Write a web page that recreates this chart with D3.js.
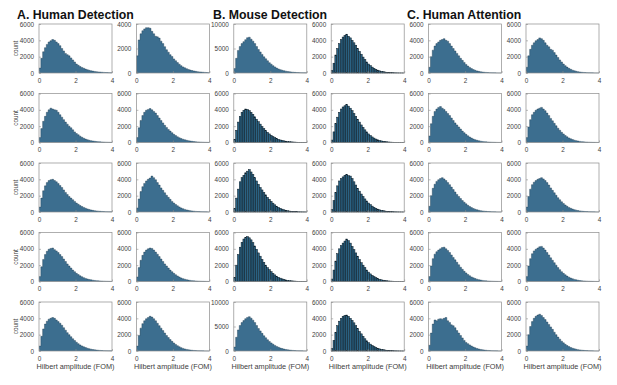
<!DOCTYPE html>
<html><head><meta charset="utf-8">
<script src="https://cdn.jsdelivr.net/npm/d3@7"></script>
<style>body{margin:0;background:#fff}svg{display:block}text{font-family:"Liberation Sans",Arial,sans-serif}</style>
</head><body>
<script>
// bin edges: 0..4 in steps of 0.1 (40 bins)
const binStarts = d3.range(40).map(i => i / 10);
const xTicks = [0, 2, 4];
const panelTitles = ["A. Human Detection", "B. Mouse Detection", "C. Human Attention"];
const xLabel = "Hilbert amplitude (FOM)";
const yLabel = "count";
const yMaxRows = [
  [6000, 4000, 10000, 6000, 6000, 6000],
  [6000, 6000, 6000, 6000, 6000, 6000],
  [6000, 6000, 6000, 6000, 6000, 6000],
  [6000, 6000, 6000, 6000, 6000, 6000],
  [6000, 6000, 10000, 6000, 6000, 6000]
];
const yTickSets = {4000: [0, 2000, 4000], 6000: [0, 2000, 4000, 6000], 10000: [0, 5000, 10000]};
const edgedRows = [
  [false, false, false, true, false, false],
  [false, false, true, true, false, false],
  [false, false, true, true, false, false],
  [false, false, true, true, false, false],
  [false, false, false, true, false, false]
];
// counts per bin, row by row
const row1 = [
  [600,1800,2600,3100,3500,3800,3950,4100,4000,3800,3600,3350,3000,2700,2400,2250,2100,1850,1600,1350,1100,950,800,680,580,480,400,330,270,230,190,160,130,110,90,75,60,50,40,30],
  [1400,2700,3200,3450,3600,3700,3700,3650,3400,3200,3000,2950,2850,2600,2400,2150,1900,1700,1500,1350,1150,1000,850,720,600,500,420,350,290,240,200,165,135,110,90,75,60,50,40,30],
  [900,3000,4600,5400,6000,6400,6800,7200,7300,6900,6500,6000,5400,4800,4300,3800,3300,2900,2500,2100,1800,1500,1250,1000,820,680,560,460,380,310,250,200,160,130,100,80,65,50,40,30],
  [300,1200,2200,3000,3600,4100,4400,4600,4750,4500,4300,4000,3700,3400,3000,2650,2300,1950,1650,1350,1100,900,720,570,450,350,270,210,160,120,90,70,50,40,30,20,15,10,8,5],
  [700,2000,2800,3300,3600,3800,4000,4100,4200,4000,3900,3600,3300,3000,2700,2400,2100,1800,1550,1300,1050,850,680,540,420,330,260,200,150,120,90,70,55,40,30,22,16,12,8,5],
  [700,2100,2900,3400,3700,3950,4100,4300,4200,4000,3700,3400,3200,2900,2800,2500,2200,1900,1600,1350,1100,900,720,570,450,350,270,210,160,120,90,70,55,40,30,22,16,12,8,5]
];
const row2 = [
  [600,1700,2600,3200,3700,4000,4200,4100,4000,3950,3700,3400,3100,2800,2500,2250,2000,1800,1550,1300,1100,950,780,640,520,420,340,270,220,180,150,120,100,80,65,50,40,32,25,20],
  [600,1800,2700,3300,3700,3950,4050,4150,4000,3800,3600,3300,3000,2700,2400,2100,1850,1600,1400,1200,1000,850,700,580,480,400,330,270,220,180,145,115,90,72,58,45,35,28,22,17],
  [400,1500,2500,3200,3700,3950,4100,4050,3900,3700,3450,3150,2850,2550,2250,1950,1700,1450,1250,1050,870,720,590,480,390,310,250,200,160,125,100,80,62,48,37,28,21,16,12,9],
  [300,1300,2300,3100,3700,4100,4350,4500,4650,4450,4200,3900,3550,3200,2850,2500,2150,1850,1550,1300,1050,850,680,540,420,330,255,195,150,115,85,65,50,37,28,20,15,11,8,5],
  [800,2300,3200,3800,4100,4300,4400,4200,4050,3800,3550,3300,3000,2700,2400,2150,1900,1650,1400,1200,1000,820,670,540,430,340,270,210,165,130,100,78,60,46,35,27,20,15,11,8],
  [600,1900,2800,3400,3700,3950,4100,4200,4300,4100,3900,3600,3300,2950,2650,2350,2050,1750,1500,1250,1050,860,700,560,450,360,285,225,175,135,105,80,62,48,37,28,21,16,12,9]
];
const row3 = [
  [600,1700,2600,3200,3600,3850,3950,4000,3850,3700,3500,3250,3000,2700,2400,2150,1900,1700,1500,1300,1100,950,800,670,560,460,380,310,250,200,160,130,105,85,68,55,44,35,28,22],
  [500,1600,2500,3100,3500,3800,4000,4150,4400,4200,3950,3600,3300,2950,2650,2350,2050,1800,1550,1300,1100,920,760,620,500,400,320,255,200,160,125,98,76,59,46,36,28,22,17,13],
  [400,1700,2800,3700,4200,4500,4800,5000,5200,4900,4600,4200,3800,3400,3000,2700,2400,2100,1800,1550,1300,1080,880,710,570,450,350,270,210,160,120,92,70,53,40,30,22,16,12,9],
  [300,1400,2400,3200,3800,4100,4300,4500,4600,4450,4400,4100,3700,3300,2900,2550,2200,1900,1600,1350,1100,900,720,570,450,350,270,210,160,120,90,68,52,40,30,22,16,12,9,6],
  [700,2000,2900,3400,3750,3950,4100,4200,4050,3850,3600,3350,3050,2750,2450,2150,1900,1650,1400,1200,1000,820,670,540,430,340,270,210,165,130,100,78,60,46,35,27,20,15,11,8],
  [600,1900,2800,3350,3650,3850,4000,4100,4200,4050,3850,3600,3300,2950,2650,2350,2050,1750,1500,1250,1050,860,700,560,450,360,285,225,175,135,105,80,62,48,37,28,21,16,12,9]
];
const row4 = [
  [600,1800,2700,3300,3700,3950,4050,4100,3900,3750,3550,3300,3050,2750,2450,2150,1900,1650,1400,1200,1000,850,700,580,470,380,310,250,200,160,130,100,80,64,50,40,32,25,20,15],
  [550,1700,2600,3200,3600,3850,4000,4100,4050,3850,3600,3350,3050,2750,2450,2150,1900,1650,1400,1200,1000,830,680,550,440,350,280,220,170,135,105,82,64,50,39,30,23,18,14,10],
  [500,2000,3300,4200,4800,5200,5400,5500,5350,5100,4750,4350,3950,3500,3100,2700,2350,2000,1700,1450,1200,1000,810,650,520,410,320,250,190,145,110,85,64,48,36,27,20,15,11,8],
  [300,1400,2500,3400,4000,4400,4700,4950,5200,5000,4700,4300,3900,3500,3100,2700,2300,2000,1700,1400,1150,930,750,590,460,360,280,210,160,120,90,68,52,40,30,22,16,12,9,6],
  [600,1900,2800,3350,3650,3850,4000,4150,4200,4000,3800,3550,3250,2950,2650,2350,2050,1750,1500,1250,1050,860,700,560,450,360,285,225,175,135,105,80,62,48,37,28,21,16,12,9],
  [600,1900,2800,3400,3750,3950,4100,4250,4300,4100,3850,3550,3250,2900,2600,2300,2000,1700,1450,1200,1000,820,660,530,420,330,260,200,155,120,92,70,54,41,31,24,18,14,10,7]
];
const row5 = [
  [600,1800,2700,3300,3650,3900,4000,4100,4000,3800,3600,3400,3150,2850,2550,2250,2000,1750,1500,1280,1080,900,750,620,510,420,340,275,220,175,140,110,88,70,56,44,35,28,22,17],
  [600,1900,2800,3350,3700,3950,4100,4250,4150,3950,3700,3400,3100,2800,2500,2200,1900,1650,1400,1180,980,800,650,520,410,320,250,195,150,115,88,68,52,40,30,23,17,13,10,7],
  [800,2800,4300,5200,5800,6200,6600,6850,7000,6700,6300,5800,5200,4600,4100,3600,3100,2700,2300,1950,1650,1380,1140,930,760,610,490,390,310,245,190,150,115,88,68,52,40,30,23,17],
  [300,1300,2300,3100,3650,4000,4250,4350,4400,4250,4000,3750,3450,3100,2750,2400,2100,1800,1500,1250,1030,840,680,540,430,340,265,205,158,120,92,70,53,40,30,23,17,12,9,6],
  [700,2200,3300,3800,3700,3900,3950,3900,4000,4100,3700,3500,3200,3100,2850,2500,2200,1900,1600,1300,1050,900,750,610,490,390,310,245,190,150,115,88,68,52,40,30,23,17,13,10],
  [600,2000,3000,3600,4000,4250,4400,4500,4350,4100,3850,3550,3250,2950,2650,2300,2000,1700,1450,1200,1000,820,670,540,430,340,270,210,165,130,100,78,60,46,35,27,20,15,11,8]
];
const rows = [row1, row2, row3, row4, row5];

const W = 617, H = 385;
const svg = d3.select("body").append("svg").attr("width", W).attr("height", H);
const pw = 73, ph = 49;
const colLeft = c => 39 + c * 97.4;
const rowTop = r => 24 + r * 69.5;

const fillPlain = "#3c6e8f";
const fillEdged = "#2a6283";
const textCol = "#404040";

rows.forEach((row, r) => {
  row.forEach((counts, c) => {
    const x0 = colLeft(c), y0 = rowTop(r);
    const g = svg.append("g").attr("transform", `translate(${x0},${y0})`);
    const x = d3.scaleLinear().domain([0, 4]).range([0, pw]);
    const ymax = yMaxRows[r][c];
    const y = d3.scaleLinear().domain([0, ymax]).range([ph, 0]);
    const edged = edgedRows[r][c];
    if (edged) {
      g.selectAll("rect.bar").data(counts).join("rect").attr("class", "bar")
        .attr("x", (d, i) => x(binStarts[i]))
        .attr("width", (d, i) => x(binStarts[i] + 0.1) - x(binStarts[i]))
        .attr("y", d => y(d))
        .attr("height", d => ph - y(d))
        .attr("fill", fillEdged)
        .attr("stroke", "#0a1a24")
        .attr("stroke-width", 0.5);
    } else {
      const pts = counts.map((v, i) => [binStarts[i], v]);
      pts.push([4, counts[counts.length - 1]]);
      const area = d3.area().curve(d3.curveStepAfter).x(d => x(d[0])).y0(y(0)).y1(d => y(d[1]));
      const line = d3.line().curve(d3.curveStepAfter).x(d => x(d[0])).y(d => y(d[1]));
      g.append("path").attr("d", area(pts)).attr("fill", fillPlain);
      g.append("path").attr("d", line(pts)).attr("fill", "none")
        .attr("stroke", "#1d3b50").attr("stroke-width", 0.5).attr("stroke-opacity", 0.8);
    }
    // box
    g.append("rect").attr("x", 0).attr("y", 0).attr("width", pw).attr("height", ph)
      .attr("fill", "none").attr("stroke", "#8c8c8c").attr("stroke-width", 0.7);
    // x axis
    const xa = g.append("g").attr("transform", `translate(0,${ph})`)
      .call(d3.axisBottom(x).tickValues(xTicks).tickFormat(d3.format("d")).tickSizeInner(-2).tickSizeOuter(0).tickPadding(5));
    // y axis
    const ya = g.append("g")
      .call(d3.axisLeft(y).tickValues(yTickSets[ymax]).tickFormat(d3.format("d")).tickSizeInner(-2).tickSizeOuter(0).tickPadding(5));
    [xa, ya].forEach(a => {
      a.select(".domain").remove();
      a.selectAll("line").attr("stroke", "#8c8c8c").attr("stroke-width", 0.6);
      a.selectAll("text").attr("fill", textCol).attr("font-size", 6.4).attr("font-family", "Liberation Sans, Arial, sans-serif");
    });
    if (c === 0) {
      g.append("text").attr("transform", `translate(-21,${ph / 2}) rotate(-90)`)
        .attr("text-anchor", "middle").attr("font-size", 6.4).attr("fill", textCol).text(yLabel);
    }
    if (r === 4) {
      g.append("text").attr("x", pw / 2).attr("y", ph + 18).attr("text-anchor", "middle")
        .attr("font-size", 7.3).attr("fill", textCol).text(xLabel);
    }
  });
});

const titleX = [17, 213, 407];
panelTitles.forEach((t, i) => {
  svg.append("text").attr("x", titleX[i]).attr("y", 19).attr("font-size", 12.3)
    .attr("font-weight", "bold").attr("fill", "#111").text(t);
});
</script>
</body></html>
